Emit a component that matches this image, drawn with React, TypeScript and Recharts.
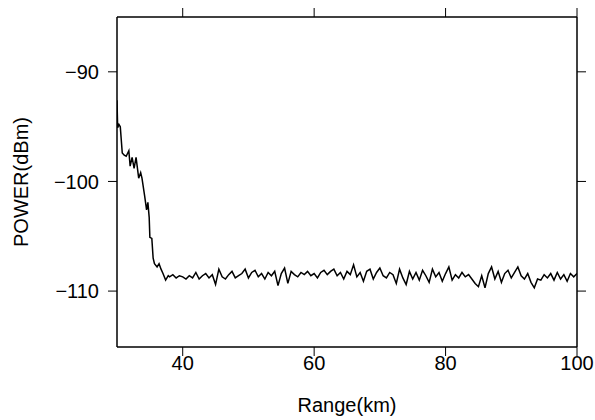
import React from "react";
import { LineChart, Line, XAxis, YAxis, Label } from "recharts";

// steep drop near the start of the range
const decayKm = [
  30.0, 30.1, 30.3, 30.5, 30.8, 31.1, 31.4, 31.8, 32.0, 32.3, 32.6, 32.9, 33.3, 33.6,
  33.8, 34.2, 34.5, 34.7, 34.9, 35.0, 35.3, 35.5, 35.7, 36.1, 36.4, 36.7, 37.0, 37.4, 37.8,
];
const decayDb = [
  -92.6, -95.1, -94.8, -95.0, -97.4, -97.6, -97.7, -97.2, -98.6, -97.8, -98.8, -97.8, -99.7, -99.2,
  -99.7, -101.3, -102.6, -101.9, -103.3, -105.1, -105.2, -107.0, -107.5, -107.8, -107.5, -108.0,
  -108.4, -109.0, -108.6,
];

// noise floor, sampled every 0.5 km from 38 km
const floorStartKm = 38;
const floorStepKm = 0.5;
const floorDb = [
  -108.7, -108.5, -108.8, -108.6, -108.7, -108.9, -108.6, -108.8, -108.3, -108.9,
  -108.6, -108.4, -108.8, -108.5, -109.4, -108.0, -108.7, -108.9, -108.5, -108.2,
  -108.8, -108.6, -108.4, -108.0, -108.8, -108.3, -108.1, -108.7, -108.4, -108.9,
  -108.3, -108.6, -108.2, -109.5, -108.4, -107.9, -109.3, -108.2, -108.5, -108.7,
  -108.3, -108.5, -108.2, -108.6, -108.4, -108.8, -108.3, -108.1, -108.5, -108.2,
  -108.0, -108.6, -108.3, -108.9, -108.2, -108.5, -107.6, -108.7, -108.3, -109.1,
  -108.2, -108.0, -108.9, -108.3, -107.9, -108.6, -108.8, -108.3, -108.5, -109.3,
  -108.0, -108.8, -109.4, -108.2, -108.9, -108.3, -109.0, -108.1, -108.6, -109.2,
  -108.0, -108.7, -108.3, -109.1, -108.4, -107.8, -109.0, -108.5, -108.8, -108.3,
  -108.7, -108.5, -108.9, -109.3, -109.6, -108.6, -109.7, -108.4, -107.8, -108.9,
  -108.2, -109.2, -108.4, -108.1, -108.8, -108.3, -107.8, -108.6, -108.9, -108.4,
  -109.2, -109.7, -108.9, -109.0, -108.5, -108.8, -108.4, -109.0, -108.3, -108.9,
  -108.5, -109.1, -108.4, -108.7, -108.4,
];

const xTicks = [40, 60, 80, 100];
const yTicks = [-110, -100, -90];

const data = [
  ...decayKm.map((km, i) => ({ km, db: decayDb[i] })),
  ...floorDb.map((db, i) => ({ km: floorStartKm + i * floorStepKm, db })),
];

const font = "'Liberation Sans', Arial, Helvetica, sans-serif";
const tickStyle = { fontSize: 20, fill: "#000", fontFamily: font };
const minus = (v: number) => (v < 0 ? "\u2212" + Math.abs(v) : String(v));
const blank = () => "";

export default function App() {
  return (
    <div style={{ position: "absolute", left: 0, top: 0, background: "#fff" }}>
      <LineChart width={595} height={420} data={data} margin={{ top: 0, right: 0, bottom: 0, left: 0 }}>
        <XAxis
          dataKey="km"
          type="number"
          domain={[30, 100]}
          ticks={xTicks}
          allowDataOverflow
          height={73}
          tickSize={9}
          tickMargin={0}
          tick={tickStyle}
          axisLine={{ stroke: "#000", strokeWidth: 1.5 }}
          tickLine={{ stroke: "#000", strokeWidth: 1 }}
        >
          <Label
            content={({ viewBox }: any) => (
              <text
                x={viewBox.x + viewBox.width / 2}
                y={412}
                textAnchor="middle"
                fontSize={20}
                fontFamily={font}
                fill="#000"
              >
                Range(km)
              </text>
            )}
          />
        </XAxis>
        <XAxis
          xAxisId="top"
          orientation="top"
          type="number"
          dataKey="km"
          domain={[30, 100]}
          ticks={xTicks}
          allowDataOverflow
          height={17}
          tickSize={9}
          tickFormatter={blank}
          axisLine={{ stroke: "#000", strokeWidth: 1.5 }}
          tickLine={{ stroke: "#000", strokeWidth: 1 }}
        />
        <YAxis
          type="number"
          domain={[-115.1, -85]}
          ticks={yTicks}
          allowDataOverflow
          width={117}
          tickSize={9}
          tickMargin={9}
          tick={tickStyle}
          tickFormatter={minus}
          axisLine={{ stroke: "#000", strokeWidth: 1.5 }}
          tickLine={{ stroke: "#000", strokeWidth: 1 }}
        >
          <Label
            content={({ viewBox }: any) => {
              const cy = viewBox.y + viewBox.height / 2;
              return (
                <text
                  x={28}
                  y={cy}
                  transform={`rotate(-90 28 ${cy})`}
                  textAnchor="middle"
                  fontSize={20}
                  fontFamily={font}
                  fill="#000"
                >
                  POWER(dBm)
                </text>
              );
            }}
          />
        </YAxis>
        <YAxis
          yAxisId="right"
          orientation="right"
          type="number"
          domain={[-115.1, -85]}
          ticks={yTicks}
          allowDataOverflow
          width={18}
          tickSize={9}
          tickFormatter={blank}
          axisLine={{ stroke: "#000", strokeWidth: 1.5 }}
          tickLine={{ stroke: "#000", strokeWidth: 1 }}
        />
        <Line
          type="linear"
          dataKey="db"
          stroke="#000"
          strokeWidth={1.5}
          dot={false}
          isAnimationActive={false}
        />
      </LineChart>
    </div>
  );
}
